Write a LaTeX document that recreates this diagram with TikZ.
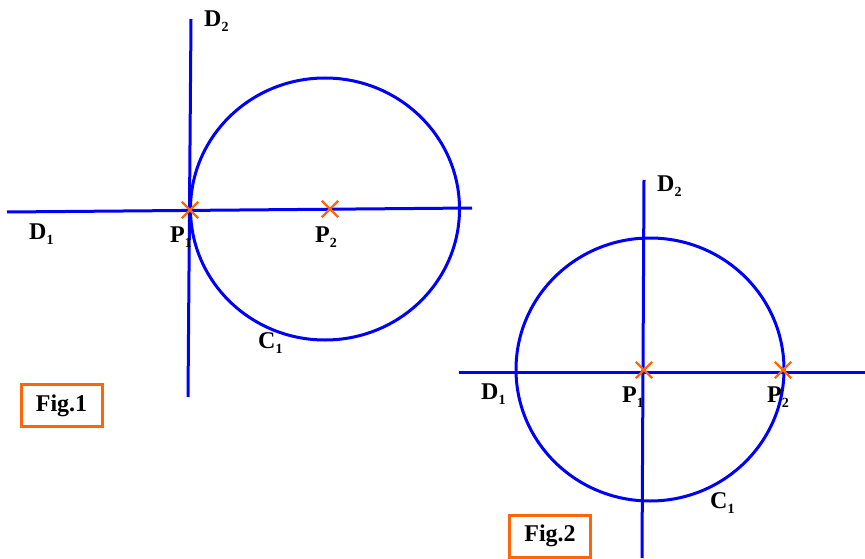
\documentclass[tikz,border=0pt]{standalone}
\usepackage{fontspec}
\setmainfont{Liberation Serif}
\usepackage{tikz}
\usetikzlibrary{shapes.misc}
\definecolor{azul}{HTML}{0000FA}
\definecolor{naranja}{HTML}{FF6608}
\newcommand{\ind}[2]{#1\raisebox{-5pt}{\fontsize{14}{14}\selectfont #2}}
\tikzset{
  every picture/.style={font=\fontsize{24}{28}\selectfont\bfseries},
  recta/.style={draw=azul, line width=3pt},
  cruz/.style={cross out, draw=naranja, line width=2.4pt, minimum size=14pt, inner sep=0pt},
  etiq/.style={anchor=base west, inner sep=0pt},
  caja/.style={draw=naranja, line width=3pt, minimum width=81pt, minimum height=42pt, inner sep=0pt},
}
\begin{document}
\begin{tikzpicture}[x=1pt, y=-1pt]
  \useasboundingbox (0,0) rectangle (865,559);
  % Fig.1
  \coordinate (ad1) at (7,212);   \coordinate (bd1) at (472,208);
  \coordinate (ad2) at (191,19);  \coordinate (bd2) at (188,397);
  \coordinate (oc1) at (325,209);
  \draw[recta] (ad1) -- (bd1);
  \draw[recta] (ad2) -- (bd2);
  \draw[recta] (oc1) ellipse [x radius=134.5, y radius=131];
  \node[cruz] (p1) at (190,210) {};
  \node[cruz] (p2) at (330,209) {};
  \node[etiq] (ld2) at (204,27) {\ind{D}{2}};
  \node[etiq] (ld1) at (29,239) {\ind{D}{1}};
  \node[etiq] (lp1) at (170,242) {\ind{P}{1}};
  \node[etiq] (lp2) at (315,242) {\ind{P}{2}};
  \node[etiq] (lc1) at (258,348) {\ind{C}{1}};
  \node[caja] (fig1) at (61.5,405.5) {Fig.1};
  % Fig.2
  \coordinate (ae1) at (459,372);  \coordinate (be1) at (865,372);
  \coordinate (ae2) at (644,180);  \coordinate (be2) at (642,558);
  \coordinate (oc2) at (650,369.5);
  \draw[recta] (ae1) -- (be1);
  \draw[recta] (ae2) -- (be2);
  \draw[recta] (oc2) ellipse [x radius=134, y radius=131.5];
  \node[cruz] (q1) at (644,370) {};
  \node[cruz] (q2) at (783,370) {};
  \node[etiq] (le2) at (657,192) {\ind{D}{2}};
  \node[etiq] (le1) at (481,399) {\ind{D}{1}};
  \node[etiq] (lq1) at (622,402) {\ind{P}{1}};
  \node[etiq] (lq2) at (767,402) {\ind{P}{2}};
  \node[etiq] (lc2) at (710,508) {\ind{C}{1}};
  \node[caja] (fig2) at (550,536) {Fig.2};
\end{tikzpicture}
\end{document}
